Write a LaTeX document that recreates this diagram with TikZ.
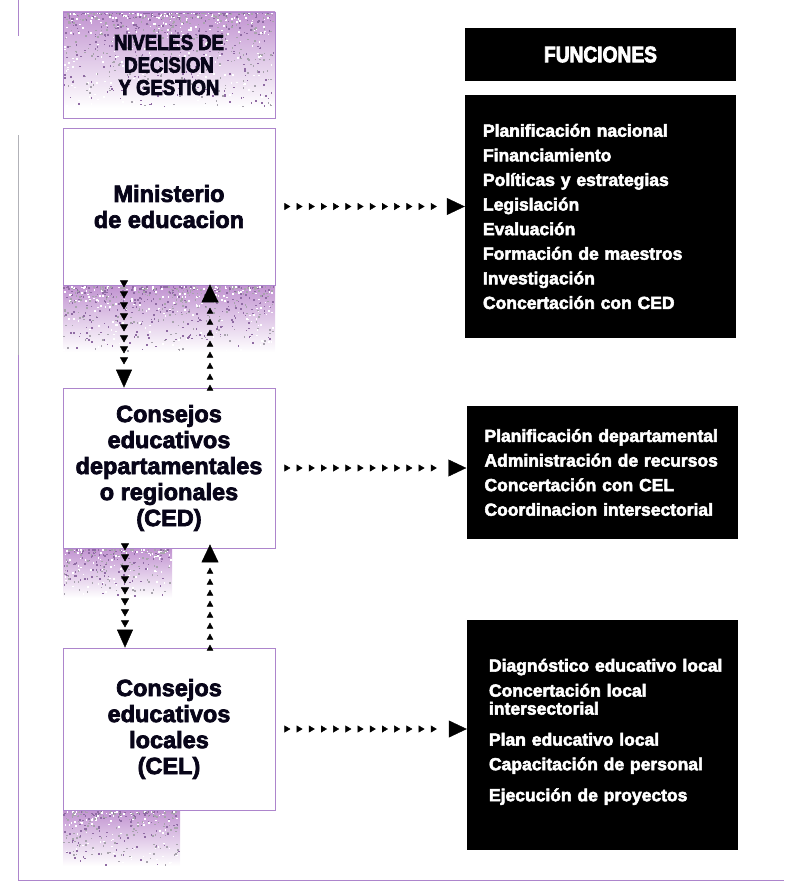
\documentclass[tikz,border=0pt]{standalone}
\usepackage{fontspec}
\setmainfont{Liberation Sans}
\newfontfamily\heavyfont{Liberation Sans}[UprightFont=* Bold, FakeBold=3]
\newfontfamily\condfont{Liberation Sans}[UprightFont=* Bold, FakeStretch=0.86, FakeBold=3.5]
\usetikzlibrary{arrows.meta,decorations.markings}

\definecolor{ink}{rgb}{0.03,0.02,0.10}
\definecolor{mauve}{rgb}{0.76,0.58,0.82}
\definecolor{speck}{rgb}{0.56,0.42,0.64}
\definecolor{speckgray}{rgb}{0.66,0.64,0.68}
\definecolor{frame}{rgb}{0.68,0.52,0.80}
\definecolor{rule}{rgb}{0.70,0.70,0.72}

% grainy mauve band: x0, y0, x1, y1, number of specks
\newcommand\grainpatch[5]{%
  \shade[top color=mauve, bottom color=white] (#1,#2) rectangle (#3,#4);
  \foreach \k in {1,...,#5}{
    \pgfmathsetmacro\gx{#1+rnd*(#3-#1-2)}
    \pgfmathsetmacro\gy{#2+(rnd^2)*(#4-#2-2)}
    \pgfmathsetmacro\gc{rnd}
    \ifdim\gc pt<0.35pt
      \fill[speck] (\gx,\gy) rectangle ++(1.6,1.6);
    \else
      \ifdim\gc pt<0.7pt
        \fill[speckgray] (\gx,\gy) rectangle ++(1.6,1.6);
      \else
        \fill[white] (\gx,\gy) rectangle ++(1.6,1.6);
      \fi
    \fi
  }%
}

\tikzset{
  levelbox/.style={draw=frame, line width=0.8pt, minimum width=212pt,
    align=center, font=\fontsize{23.5}{26}\selectfont\heavyfont, text=ink, inner sep=0pt},
  funbox/.style={fill=black, draw=none, minimum width=271pt, inner xsep=18pt,
    text width=235pt, align=left, text=white,
    font=\fontsize{17.5}{24.6}\selectfont\heavyfont},
  hchain/.style={color=ink, decoration={markings,
      mark=between positions 5pt and -19pt step 12.2pt with {\arrow{Triangle[length=6pt,width=7pt]}},
      mark=at position 1 with {\arrow{Triangle[length=18pt,width=17pt]}}},
    decorate},
  vdown/.style={color=ink, decoration={markings,
      mark=between positions 6pt and -19pt step 11pt with {\arrow{Triangle[length=7pt,width=8pt]}},
      mark=at position 1 with {\arrow{Triangle[length=18pt,width=16pt]}}},
    decorate},
  vup/.style={color=ink, decoration={markings,
      mark=between positions 6pt and -20pt step 11pt with {\arrow{Triangle[length=6pt,width=6.5pt]}},
      mark=at position 1 with {\arrow{Triangle[length=18pt,width=17pt]}}},
    decorate},
}

\begin{document}
\begin{tikzpicture}[x=1pt, y=-1pt]
\useasboundingbox (0,0) rectangle (784,883);
\pgfmathsetseed{11}

% page rules
\draw[frame, line width=0.8pt] (18,0) -- (18,36);
\draw[rule, line width=1pt] (18,135) -- (18,355);
\draw[frame, line width=0.8pt] (18,355) -- (18,880) -- (784,880);

% grainy bands
\grainpatch{63}{12}{275}{108}{900}
\grainpatch{63}{286}{275}{352}{700}
\grainpatch{63}{549}{172}{598}{300}
\grainpatch{63}{811}{180}{866}{340}

% levels column
\node[levelbox, minimum height=106pt, fill=none,
      font=\fontsize{21.5}{22.5}\selectfont\condfont] (hdr) at (169,65)
  {NIVELES DE\\DECISION\\Y GESTION};
\node[levelbox, minimum height=157pt] (min) at (169,206.5)
  {Ministerio\\de educacion};
\node[levelbox, minimum height=160pt, fill=white] (ced) at (169,468)
  {Consejos\\educativos\\departamentales\\o regionales\\(CED)};
\node[levelbox, minimum height=162pt, fill=white] (cel) at (169,729)
  {Consejos\\educativos\\locales\\(CEL)};

% functions column
\node[fill=black, minimum width=271pt, minimum height=53pt, text=white,
      font=\fontsize{22.3}{26}\selectfont\condfont] (fun) at (600.5,54.5) {FUNCIONES};
\node[funbox, minimum height=243pt] (f1) at (600.5,216.5)
  {Planificación nacional\\Financiamiento\\Políticas y estrategias\\Legislación\\%
   Evaluación\\Formación de maestros\\Investigación\\Concertación con CED};
\node[funbox, minimum width=270pt, minimum height=133pt] (f2) at (602,472.5)
  {\mbox{Planificación departamental}\\Administración de recursos\\Concertación con CEL\\\mbox{Coordinacion intersectorial}};
\node[funbox, minimum width=271pt, minimum height=230pt, inner xsep=22pt, text width=227pt] (f3) at (602.5,735)
  {\mbox{Diagnóstico educativo local}\\[0.4pt]Concertación local\\[-6.6pt]intersectorial\\[6.4pt]%
   Plan educativo local\\Capacitación de personal\\[6.4pt]Ejecución de proyectos\\[-14.6pt]\mbox{}};

% level to function arrows
\path[hchain] ([xshift=10pt]min.east) -- (f1.west |- min.east);
\path[hchain] ([xshift=10pt]ced.east) -- (f2.west |- ced.east);
\path[hchain] ([xshift=10pt]cel.east) -- (f3.west |- cel.east);

% arrows between levels
\path[vdown] ([xshift=-45pt,yshift=4pt]min.south) -- ([xshift=-45pt]ced.north);
\path[vup] ([xshift=41pt,yshift=-3pt]ced.north) -- ([xshift=41pt,yshift=1pt]min.south);
\path[vdown] ([xshift=-44pt,yshift=4pt]ced.south) -- ([xshift=-44pt]cel.north);
\path[vup] ([xshift=41pt,yshift=-3pt]cel.north) -- ([xshift=41pt,yshift=4pt]ced.south);
\end{tikzpicture}
\end{document}
